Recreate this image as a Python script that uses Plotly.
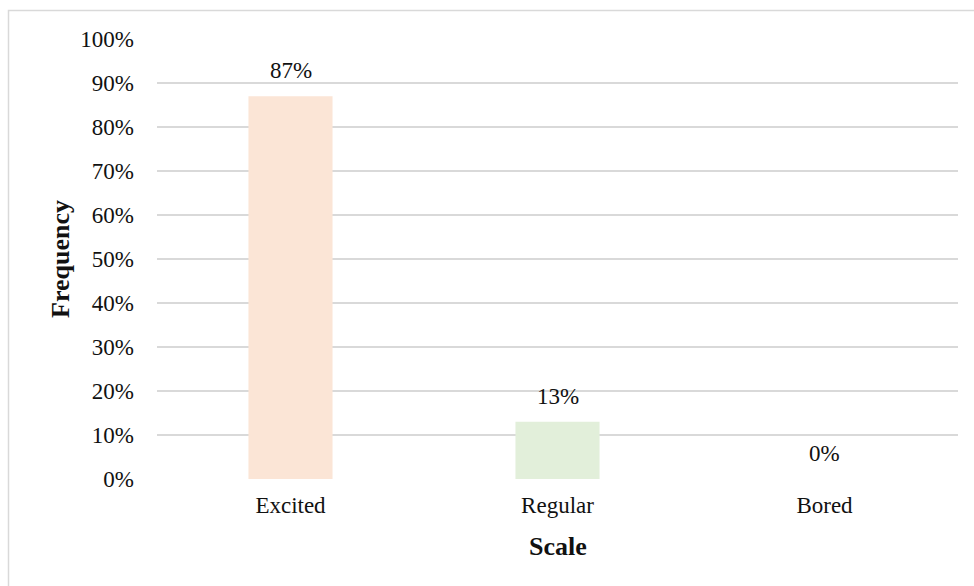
import plotly.graph_objects as go

categories = ["Excited", "Regular", "Bored"]
values = [0.87, 0.13, 0.0]
bar_colors = ["#FBE5D6", "#E2EFDA", "#DEEBF7"]
y_ticks = [i / 10 for i in range(11)]
y_tick_labels = [f"{i * 10}%" for i in range(11)]

W, H = 974, 586
ML, MR, MT, MB = 157, 16, 39, 107
PW, PH = W - ML - MR, H - MT - MB

FONT = "Liberation Serif, Times New Roman, serif"
TXT = "#111111"
TICK_SIZE = 23
TITLE_SIZE = 26

fig = go.Figure(
    go.Bar(
        x=categories,
        y=values,
        marker=dict(color=bar_colors, line=dict(width=0)),
        hoverinfo="skip",
    )
)

# value labels above each bar
for c, v in zip(categories, values):
    fig.add_annotation(
        x=c, y=v, text=f"{round(v * 100)}%", showarrow=False,
        yanchor="bottom", yshift=11, font=dict(family=FONT, size=TICK_SIZE, color=TXT),
    )

# axis titles
fig.add_annotation(
    xref="paper", yref="paper", x=(60 - ML) / PW, y=0.5, text="<b>Frequency</b>",
    textangle=-90, showarrow=False, xanchor="center", yanchor="middle",
    font=dict(family=FONT, size=TITLE_SIZE, color=TXT),
)
fig.add_annotation(
    xref="paper", yref="paper", x=0.5, y=-(546 - (MT + PH)) / PH, text="<b>Scale</b>",
    showarrow=False, xanchor="center", yanchor="middle",
    font=dict(family=FONT, size=TITLE_SIZE, color=TXT),
)

# outer chart frame
fig.add_shape(
    type="rect", xref="paper", yref="paper",
    x0=(8.5 - ML) / PW, x1=(W + 20 - ML) / PW,
    y0=-(H + 20 - MT - PH) / PH, y1=(MT + PH - 10.5) / PH,
    line=dict(color="#D9D9D9", width=1.5), fillcolor="rgba(0,0,0,0)", layer="below",
)

fig.update_layout(
    width=W, height=H,
    margin=dict(l=ML, r=MR, t=MT, b=MB),
    paper_bgcolor="white", plot_bgcolor="white",
    bargap=0.685, showlegend=False,
    font=dict(family=FONT, size=TICK_SIZE, color=TXT),
    xaxis=dict(showline=False, ticks="", showgrid=False, ticklabelstandoff=10,
               tickfont=dict(family=FONT, size=TICK_SIZE, color=TXT)),
    yaxis=dict(range=[0, 1], tickvals=y_ticks, ticktext=y_tick_labels,
               showgrid=True, gridcolor="#D9D9D9", gridwidth=1.5,
               zeroline=False, showline=False, ticks="", ticklabelstandoff=22,
               tickfont=dict(family=FONT, size=TICK_SIZE, color=TXT)),
)

fig.write_html("out.html")
